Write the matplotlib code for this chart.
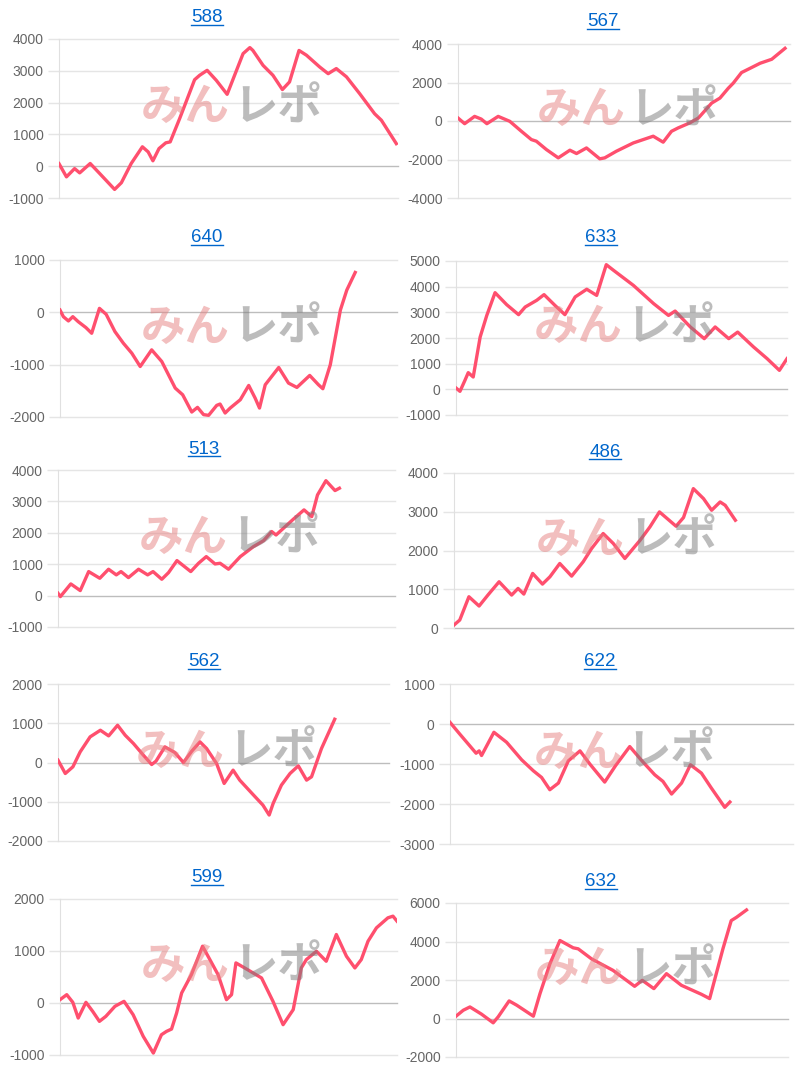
import matplotlib
matplotlib.use("Agg")
import matplotlib.pyplot as plt
from matplotlib.lines import Line2D

plt.rcParams['font.family'] = ['Liberation Sans', 'DejaVu Sans']

# x: position along the x axis in percent, y: running total
x_588 = [0, 2.2, 4.6, 6.1, 9.2, 12, 16.4, 18.4, 21.3, 24.6, 26.3, 27.7, 29.5, 31.5, 32.8, 35.6, 40, 41.5, 43.7,
         46.4, 49.6, 51.8, 54.3, 56.3, 57.2, 60.2, 63.1, 65.9, 68, 70.8, 73, 76.9, 79.4, 81.8, 84.8, 88.7, 93.1, 95.1, 99.5]
y_588 = [80, -335, -75, -210, 85, -230, -730, -520, 85, 610, 450, 170, 555, 735, 765, 1500, 2720, 2860, 3015,
         2700, 2260, 2860, 3540, 3730, 3640, 3170, 2860, 2410, 2650, 3640, 3490, 3120, 2910, 3070, 2810, 2280, 1650, 1445, 710]

x_567 = [0, 2, 5, 7, 8.7, 12.1, 15.6, 19.1, 22.1, 23.6, 26.6, 30.2, 33.7, 35.7, 38.7, 42.7, 44.2, 47.7, 52.8, 58.8,
         61.8, 64.3, 66.3, 69.8, 72.4, 76.4, 78.9, 81.4, 82.9, 85.4, 88, 91, 94.5, 98.5]
y_567 = [155, -140, 240, 100, -140, 240, -17, -535, -965, -1050, -1480, -1915, -1517, -1690, -1400, -1965, -1915,
         -1570, -1140, -790, -1100, -535, -360, -100, 155, 930, 1190, 1700, 1965, 2517, 2740, 3000, 3207, 3776]

x_640 = [0, 1, 2.5, 3.8, 5.4, 7.7, 9.4, 11.7, 13.7, 16.3, 18.8, 21.3, 23.8, 27.2, 30.2, 34.2, 36.4, 39.1, 40.8, 42.6,
         44.1, 46.5, 47.5, 49, 50.5, 53.5, 56, 57.9, 59.2, 60.9, 64.9, 67.8, 70.3, 74.1, 76.7, 78, 80.2, 83.2, 85.1, 87.6]
y_640 = [44, -83, -165, -83, -178, -292, -400, 76, -38, -368, -590, -780, -1035, -717, -940, -1448, -1575, -1905,
         -1816, -1955, -1968, -1778, -1752, -1924, -1829, -1670, -1397, -1638, -1829, -1384, -1054, -1352, -1435,
         -1206, -1384, -1460, -1003, 44, 425, 762]

x_633 = [0, 1.2, 2.7, 3.7, 5.2, 7.3, 9.3, 11.8, 15.3, 18.9, 20.9, 24.4, 26.6, 29.9, 32.9, 36, 39.5, 42.5, 45.4, 47.6,
         53.6, 59.7, 64.2, 66.2, 70.8, 75, 78.3, 82.4, 85.1, 89.9, 94, 97.7, 100]
y_633 = [52, -78, 350, 650, 480, 2040, 2880, 3766, 3300, 2910, 3207, 3470, 3690, 3270, 2910, 3600, 3900, 3660, 4857,
         4636, 4050, 3340, 2880, 3050, 2430, 1975, 2430, 1975, 2230, 1650, 1195, 740, 1195]

x_513 = [0, 0.7, 3.8, 6.6, 9.1, 12.4, 15, 17.3, 18.7, 20.9, 23.9, 26.6, 28.2, 30.8, 32.8, 35.3, 39.4, 41.7, 44, 46.6,
         48.1, 50.6, 54.1, 58, 61, 63.4, 64.7, 66.9, 69.8, 73, 75.3, 77, 79.5, 82.2, 83.5]
y_513 = [74, -32, 372, 160, 765, 552, 840, 660, 765, 573, 840, 660, 765, 520, 732, 1115, 765, 1030, 1242, 1008,
         1030, 840, 1242, 1560, 1750, 2040, 1930, 2145, 2430, 2730, 2515, 3205, 3660, 3345, 3420]

x_486 = [0, 1.7, 4.4, 7.4, 10, 13.3, 17, 18.9, 20.6, 23.2, 26.1, 28.3, 31.2, 34.7, 38.1, 40.6, 44, 47, 50.4, 54.9,
         57.8, 60.6, 65.5, 67.7, 70.6, 73.6, 76, 78.5, 80, 83]
y_486 = [77, 206, 807, 567, 850, 1193, 850, 1021, 875, 1408, 1133, 1322, 1665, 1339, 1708, 2052, 2438, 2180, 1794,
         2266, 2609, 2996, 2627, 2850, 3597, 3339, 3039, 3253, 3167, 2781]

x_562 = [0, 2.2, 4.5, 6.7, 9.7, 12.8, 15.3, 18, 20.3, 22.8, 25.8, 28.3, 29.6, 32.3, 35.3, 37.9, 40.4, 42.9, 44.9,
         47.9, 50.2, 52.9, 54.9, 58.9, 61.9, 63.8, 65, 67.5, 70.1, 72.6, 75.1, 76.6, 79.6, 83.6]
y_562 = [59, -280, -110, 271, 653, 822, 678, 949, 695, 483, 186, -51, 34, 398, 254, 0, 288, 525, 356, -25, -534,
         -195, -449, -814, -1085, -1339, -1042, -576, -280, -85, -449, -364, 356, 1102]

x_622 = [0, 2.9, 7.6, 8.5, 9.2, 12.8, 16.5, 20.9, 24.3, 26.7, 29.1, 31.6, 34.5, 37.9, 40.8, 45.1, 48.3, 52.4, 56.3,
         59.7, 62.1, 64.6, 67.5, 70.1, 73.3, 76.2, 80.1, 81.6]
y_622 = [41, -257, -730, -672, -788, -207, -456, -896, -1170, -1336, -1643, -1477, -921, -672, -1004, -1452, -1037,
         -564, -954, -1270, -1436, -1751, -1477, -1020, -1228, -1602, -2083, -1950]

x_599 = [0, 2, 3.8, 5.4, 7.7, 9.7, 11.7, 13.6, 16.3, 19, 21.7, 24.7, 27.7, 30.1, 31.6, 33.1, 34.6, 36.1, 39, 42.3,
         46.9, 49.4, 50.9, 52.2, 54.8, 59.8, 63.2, 66.2, 69.2, 71.6, 73.1, 76.1, 79, 82, 85, 87.5, 89.4, 91.4, 93.9,
         97.3, 98.8, 100]
y_599 = [64, 160, 13, -289, 13, -161, -353, -257, -64, 32, -225, -642, -963, -610, -546, -501, -193, 193, 546, 1092,
         546, 64, 160, 771, 674, 482, 32, -417, -128, 674, 835, 995, 803, 1317, 899, 674, 835, 1188, 1445, 1638, 1670,
         1574]

x_632 = [0, 2.2, 4.2, 7.7, 11.2, 12.7, 16, 18.3, 23.3, 25.3, 28.3, 31.3, 35.3, 36.8, 40.8, 47.3, 53.8, 56.1, 59.6,
         63.4, 67.9, 73.9, 76.4, 78.4, 80.4, 82.9, 84.5, 87.5]
y_632 = [120, 430, 600, 224, -224, 86, 914, 690, 120, 1293, 2845, 4052, 3672, 3620, 3100, 2500, 1672, 1983, 1552,
         2328, 1724, 1259, 1034, 2328, 3620, 5086, 5259, 5638]

titles = ['588', '567', '640', '633', '513', '486', '562', '622', '599', '632']
xs = [x_588, x_567, x_640, x_633, x_513, x_486, x_562, x_622, x_599, x_632]
ys = [y_588, y_567, y_640, y_633, y_513, y_486, y_562, y_622, y_599, y_632]
yticks = [range(-1000, 4001, 1000), range(-4000, 4001, 2000), range(-2000, 1001, 1000),
          range(-1000, 5001, 1000), range(-1000, 4001, 1000), range(0, 4001, 1000),
          range(-2000, 2001, 1000), range(-3000, 1001, 1000), range(-1000, 2001, 1000),
          range(-2000, 6001, 2000)]

# axes boxes in pixels: left, right, top, bottom ; title centre x, y
boxes = [(59, 398, 39, 198), (458, 790, 44, 198), (60, 397, 260, 417), (456, 787, 261, 415),
         (58, 395, 470, 627), (454, 793, 473, 628), (58, 389, 684, 841), (450, 793, 684, 844),
         (60, 397, 899, 1055), (456, 788, 903, 1057)]
title_pos = [(207, 18), (603, 22), (207, 238), (601, 238), (204, 449), (605, 452),
             (204, 662), (600, 662), (207, 878), (601, 882)]

W, H = 800, 1071
fig = plt.figure(figsize=(W / 100, H / 100), dpi=100)
line_color = '#ff4f6e'
title_texts = []

for i in range(10):
    l, r, t, b = boxes[i]
    ax = fig.add_axes([l / W, 1 - b / H, (r - l) / W, (b - t) / H])
    ax.plot(xs[i], ys[i], color=line_color, lw=2.4, solid_joinstyle='round', zorder=3)
    ax.set_xlim(0, 100)
    ticks = list(yticks[i])
    ax.set_ylim(ticks[0], ticks[-1])
    ax.set_yticks(ticks)
    ax.set_yticklabels([str(v) for v in ticks])
    ax.set_xticks([])
    for v in ticks:
        ax.axhline(v, color='#bdbdbd' if v == 0 else '#e5e5e5', lw=1, zorder=1, clip_on=False)
    for s in ['top', 'right', 'bottom']:
        ax.spines[s].set_visible(False)
    ax.spines['left'].set_color('#e0e0e0')
    ax.tick_params(axis='y', length=8, width=1, color='#e5e5e5', labelcolor='#666666',
                   labelsize=10, pad=3)
    ax.patch.set_alpha(0)
    # watermark
    ax.text(0.505, 0.57, 'みん', transform=ax.transAxes, ha='right', va='center',
            fontsize=32, fontweight='bold', family=['Noto Sans CJK JP'],
            color=(0.9, 0.5, 0.5), alpha=0.5, zorder=4)
    ax.text(0.515, 0.57, 'レポ', transform=ax.transAxes, ha='left', va='center',
            fontsize=32, fontweight='bold', family=['Noto Sans CJK JP'],
            color=(0.48, 0.48, 0.48), alpha=0.5, zorder=4)
    tx, ty = title_pos[i]
    tt = fig.text(tx / W, 1 - ty / H, titles[i], ha='center', va='center',
                  fontsize=13.5, color='#0066cc')
    title_texts.append(tt)

# underline the titles like links
fig.canvas.draw()
renderer = fig.canvas.get_renderer()
for tt in title_texts:
    bb = tt.get_window_extent(renderer)
    yline = bb.y0 + 2
    fig.add_artist(Line2D([bb.x0 / W, bb.x1 / W], [yline / H, yline / H],
                          transform=fig.transFigure, color='#0066cc', lw=1))

fig.savefig('out.png', dpi=100)
